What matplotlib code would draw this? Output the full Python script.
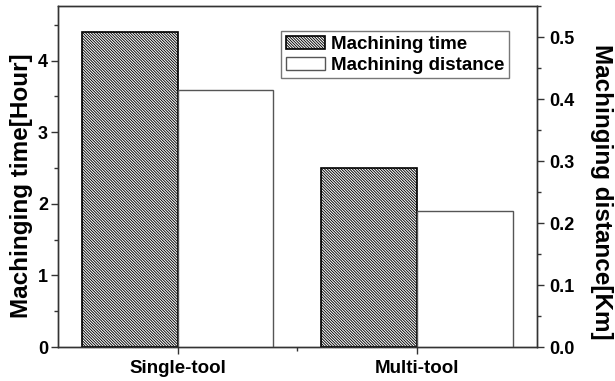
import matplotlib
matplotlib.use("Agg")
import matplotlib.pyplot as plt
from matplotlib.ticker import MultipleLocator, FixedLocator
import numpy as np

plt.rcParams['font.family'] = ['Liberation Sans', 'DejaVu Sans']
plt.rcParams['hatch.linewidth'] = 0.65
plt.rcParams['hatch.color'] = '#333333'

categories = ["Single-tool", "Multi-tool"]
time_hours = [4.4, 2.5]
distance_km = [0.415, 0.22]

fig = plt.figure(figsize=(6.15, 3.81), dpi=100)
ax = fig.add_axes([0.094, 0.089, 0.779, 0.895])
ax2 = ax.twinx()

x = np.arange(1, len(categories) + 1)
w = 0.4
b1 = ax.bar(x - w / 2, time_hours, width=w, facecolor='white', edgecolor='black',
            hatch='\\' * 12, linewidth=1.2, label='Machining time')
b2 = ax2.bar(x + w / 2, distance_km, width=w, facecolor='white', edgecolor='#555555',
             linewidth=1.0, label='Machining distance')

ax.set_xlim(0.5, 2.5)
ax.set_ylim(0, 4.76)
ax2.set_ylim(0, 0.55)

ax.set_xticks(x)
ax.set_xticklabels(categories, fontsize=13.5, fontweight='bold')
ax.xaxis.set_minor_locator(FixedLocator([1.5]))
ax.yaxis.set_major_locator(MultipleLocator(1))
ax.yaxis.set_minor_locator(MultipleLocator(0.5))
ax2.set_yticks([0.0, 0.1, 0.2, 0.3, 0.4, 0.5])
ax2.set_yticklabels(['0.0', '0.1', '0.2', '0.3', '0.4', '0.5'])
ax2.yaxis.set_minor_locator(MultipleLocator(0.05))

for a in (ax, ax2):
    for s in a.spines.values():
        s.set_color('#333333')
        s.set_linewidth(1.0)
    a.tick_params(which='major', direction='out', length=5, width=1, color='#333333')
    a.tick_params(which='minor', direction='out', length=3, width=1, color='#333333')
    a.tick_params(axis='y', labelsize=13)
    for lab in a.get_yticklabels():
        lab.set_fontweight('bold')
ax.tick_params(axis='x', which='both', top=False, pad=4)
ax.tick_params(axis='y', which='both', right=False, pad=2)
ax2.tick_params(axis='y', pad=4)

ax.set_ylabel('Machinging time[Hour]', fontsize=17.5, fontweight='bold')
ax.yaxis.set_label_coords(-0.052, 0.472)
ax2.set_ylabel('Machinging distance[Km]', fontsize=17.5, fontweight='bold',
               rotation=270, va='bottom')
ax2.yaxis.set_label_coords(1.111, 0.455)

leg = ax.legend(handles=[b1, b2], loc='upper right', bbox_to_anchor=(0.9415, 0.927),
                prop={'weight': 'bold', 'size': 13.5}, frameon=True,
                fancybox=False, edgecolor='#555555', handlelength=2.1, handleheight=0.7,
                handletextpad=0.3, borderpad=0.25, labelspacing=0.2, borderaxespad=0)
leg.get_frame().set_linewidth(1.0)

fig.savefig('out.png', dpi=100)
